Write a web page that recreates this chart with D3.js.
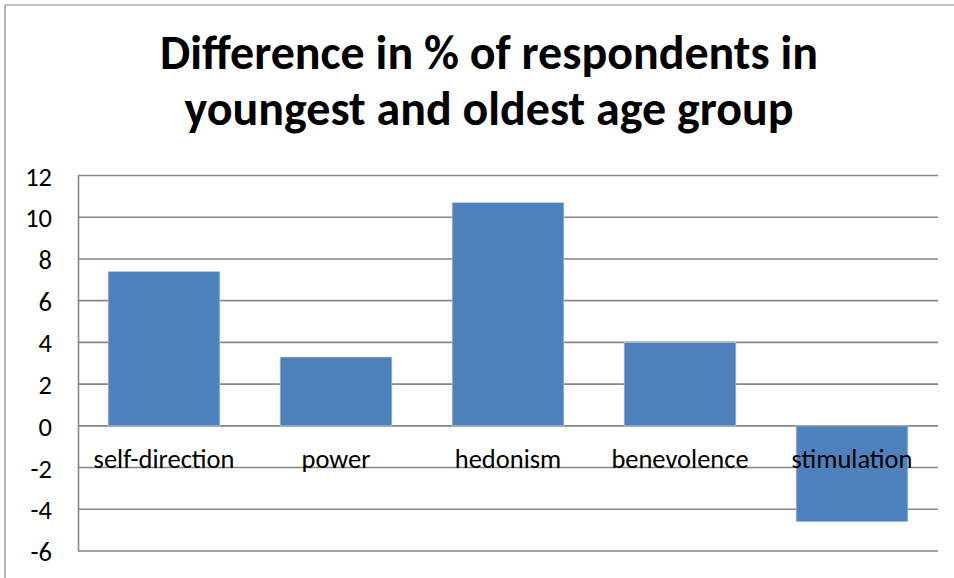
<!DOCTYPE html>
<html>
<head>
<meta charset="utf-8">
<script src="https://cdn.jsdelivr.net/npm/d3@7"></script>
<style>
  html, body { margin: 0; padding: 0; background: #fff; }
  svg { display: block; }
  text { font-family: Carlito, Lato, "Open Sans", sans-serif; }
</style>
</head>
<body>
<svg id="chart" width="954" height="578"></svg>
<script>
// Data
const categories = ["self-direction", "power", "hedonism", "benevolence", "stimulation"];
const values = [7.4, 3.3, 10.7, 4.0, -4.6];
const yTicks = [12, 10, 8, 6, 4, 2, 0, -2, -4, -6];
const titleLines = ["Difference in % of respondents in", "youngest and oldest age group"];

const W = 954, H = 578;
const plot = { left: 78, right: 938, top: 175.5, bottom: 551 };
const gridColor = "#868686";
const barColor = "#4F81BD";

const svg = d3.select("#chart");

// Outer chart frame (left and top edges)
svg.append("path")
  .attr("d", `M5,${H} L5,5 L${W},5`)
  .attr("fill", "none")
  .attr("stroke", gridColor)
  .attr("stroke-width", 1.2);

const x = d3.scaleBand()
  .domain(categories)
  .range([plot.left, plot.right])
  .paddingInner(0.35)
  .paddingOuter(0.175);

const y = d3.scaleLinear()
  .domain([-6, 12])
  .range([plot.bottom, plot.top]);

// Horizontal gridlines
svg.append("g")
  .selectAll("line")
  .data(yTicks)
  .join("line")
  .attr("x1", plot.left)
  .attr("x2", plot.right)
  .attr("y1", d => y(d))
  .attr("y2", d => y(d))
  .attr("stroke", gridColor)
  .attr("stroke-width", 1.6);

// Bars
svg.append("g")
  .selectAll("rect")
  .data(values)
  .join("rect")
  .attr("x", (d, i) => x(categories[i]))
  .attr("width", x.bandwidth())
  .attr("y", d => y(Math.max(0, d)))
  .attr("height", d => Math.abs(y(d) - y(0)))
  .attr("fill", barColor)
  .attr("stroke", "#c6d6ea")
  .attr("stroke-width", 0.6);

// Vertical value axis (plain hyphen for negatives)
const yAxis = svg.append("g")
  .attr("transform", `translate(${plot.left},0)`)
  .call(d3.axisLeft(y).tickValues(yTicks).tickSize(0).tickPadding(26).tickFormat(d => String(d)));
yAxis.select(".domain")
  .attr("stroke", gridColor)
  .attr("stroke-width", 1.6);
yAxis.selectAll("text")
  .attr("fill", "#000")
  .attr("dy", "0.36em")
  .style("font-size", "20px")
  .style("font-family", "Carlito, Lato, 'Open Sans', sans-serif");

// Category labels sitting below the zero line
const labels = svg.append("g")
  .selectAll("text")
  .data(categories)
  .join("text")
  .attr("x", d => x(d) + x.bandwidth() / 2)
  .attr("y", 468)
  .attr("text-anchor", "middle")
  .attr("fill", "#000")
  .style("font-size", "20px")
  .text(d => d);

// Size the label font so "self-direction" spans about 141px
const ref = labels.filter(d => d === "self-direction").node();
const labelSize = 20 * 141 / ref.getComputedTextLength();
labels.style("font-size", labelSize + "px");
yAxis.selectAll("text").style("font-size", labelSize + "px");

// Title
const title = svg.append("g")
  .selectAll("text")
  .data(titleLines)
  .join("text")
  .attr("x", 489)
  .attr("y", (d, i) => 69 + i * 56)
  .attr("text-anchor", "middle")
  .attr("font-weight", "bold")
  .attr("fill", "#000")
  .style("font-size", "40px")
  .text(d => d);
const tnode = title.filter((d, i) => i === 0).node();
const tSize = 40 * 658 / tnode.getComputedTextLength();
title.style("font-size", tSize + "px");
</script>
</body>
</html>
